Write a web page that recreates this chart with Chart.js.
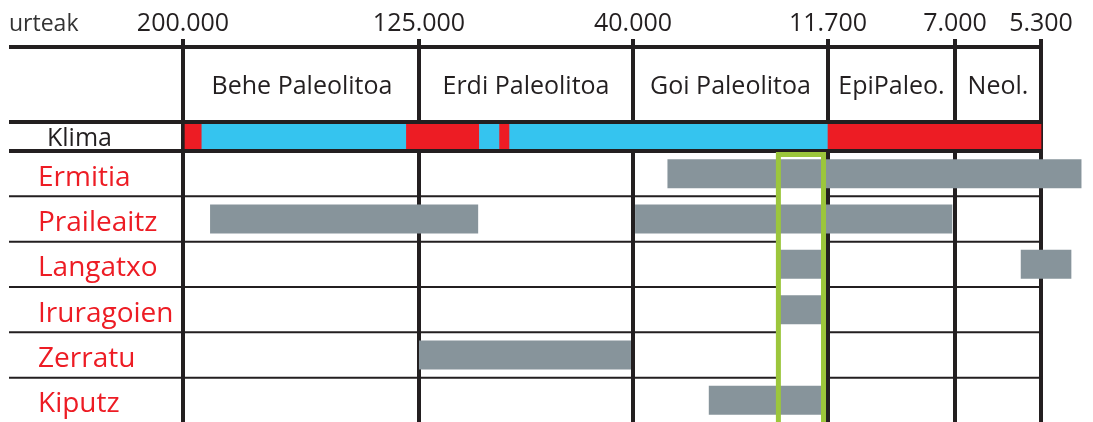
<!DOCTYPE html>
<html>
<head>
<meta charset="utf-8">
<script src="https://cdn.jsdelivr.net/npm/chart.js"></script>
<style>
  body { margin: 0; background: #fff; }
  #wrap { position: relative; width: 1093px; height: 422px; overflow: hidden; }
  .box { position: absolute; left: 0; width: 1093px; }
</style>
</head>
<body>
<div id="wrap">
  <div class="box" style="top:0;height:130px"><canvas id="header"></canvas></div>
  <div class="box" style="top:114px;height:45px"><canvas id="klima"></canvas></div>
  <div class="box" style="top:143px;height:280px"><canvas id="sites"></canvas></div>
</div>
<script>
// time axis (years before present)
const boundaryYears = [200000, 125000, 40000, 11700, 7000, 5300];
const boundaryLabels = ['200.000', '125.000', '40.000', '11.700', '7.000', '5.300'];
const periods = ['Behe Paleolitoa', 'Erdi Paleolitoa', 'Goi Paleolitoa', 'EpiPaleo.', 'Neol.'];

// climate: beroa = warm (red), hotza = cold (blue)
const climateFrom = [200000, 194000, 129000, 101000, 93000, 89000, 11700];
const climateTo   = [194000, 129000, 101000, 93000, 89000, 11700, 5300];
const climateKind = ['beroa', 'hotza', 'beroa', 'hotza', 'beroa', 'hotza', 'beroa'];

// sites and their occupation ranges
const sites = ['Ermitia', 'Praileaitz', 'Langatxo', 'Iruragoien', 'Zerratu', 'Kiputz'];
const occupationSite = ['Ermitia', 'Praileaitz', 'Praileaitz', 'Langatxo', 'Langatxo', 'Iruragoien', 'Zerratu', 'Kiputz'];
const occupationFrom = [35000, 191400, 39700, 18700, 5700, 18700, 125000, 29000];
const occupationTo   = [4500, 101500, 7100, 12400, 4700, 12400, 40800, 12400];

// highlighted window
const highlightFrom = 18900;
const highlightTo = 12350;

// the axis is not to scale: each period gets its own width
const segmentWidth = [236, 214, 195, 127, 86];
const axisMax = 910;

const ink = '#231f20';
const red = '#ed1c24';
const blue = '#35c4ef';
const grey = '#87949b';
const green = '#9cc63c';
const font = '"Open Sans", sans-serif';

function toUnit(year) {
  let start = 0;
  for (let i = 0; i < segmentWidth.length; i++) {
    const a = boundaryYears[i], b = boundaryYears[i + 1];
    if (year >= b || i === segmentWidth.length - 1) {
      return start + (a - year) / (a - b) * segmentWidth[i];
    }
    start += segmentWidth[i];
  }
}

function xAxis(showLabels) {
  return {
    type: 'linear', position: 'top', min: 0, max: axisMax, z: 1,
    afterBuildTicks: s => { s.ticks = boundaryYears.map(y => ({ value: toUnit(y) })); },
    afterFit: s => { s.height = showLabels ? 47 : 0; s.paddingLeft = 0; s.paddingRight = 0; },
    border: { display: false },
    grid: { color: ink, lineWidth: 4, drawTicks: showLabels, tickLength: 8 },
    ticks: {
      display: showLabels, autoSkip: false, maxRotation: 0, padding: 0,
      color: ink, font: { family: font, size: 25 },
      callback: (v, i) => boundaryLabels[i]
    }
  };
}

// fixed-width label column; no extra padding from label heights
function yAxis(width, extra) {
  return Object.assign({
    afterFit: s => { s.width = width; s.paddingTop = 0; s.paddingBottom = 0; },
    grid: { display: false },
    border: { display: false }
  }, extra);
}

// horizontal table rules, drawn from the label column to the last boundary
const tableLines = {
  id: 'tableLines',
  beforeDatasetsDraw(chart, args, opts) { if (opts.before) drawLines(chart, opts); },
  afterDatasetsDraw(chart, args, opts) { if (!opts.before) drawLines(chart, opts); }
};
function drawLines(chart, opts) {
  const { ctx } = chart;
  const x = chart.scales.x, y = chart.scales.y;
  const n = y.getLabels().length;
  const right = x.getPixelForValue(toUnit(boundaryYears[boundaryYears.length - 1])) + 2;
  ctx.save();
  ctx.strokeStyle = ink;
  for (let i = 0; i <= n; i++) {
    const w = (i === 0 || i === n) ? opts.edge : opts.inner;
    if (!w) continue;
    const py = y.getPixelForValue(i - 0.5);
    ctx.lineWidth = w;
    ctx.beginPath();
    ctx.moveTo(9, py);
    ctx.lineTo(right, py);
    ctx.stroke();
  }
  ctx.restore();
}

const periodText = {
  id: 'periodText',
  afterDatasetsDraw(chart) {
    const { ctx } = chart;
    ctx.save();
    ctx.fillStyle = ink;
    ctx.font = '25px ' + font;
    ctx.textAlign = 'center';
    ctx.textBaseline = 'middle';
    chart.getDatasetMeta(0).data.forEach((el, i) => {
      ctx.fillText(periods[i], (el.x + el.base) / 2, el.y + 2);
    });
    ctx.textAlign = 'left';
    ctx.textBaseline = 'alphabetic';
    ctx.font = '23px ' + font;
    ctx.fillStyle = '#333';
    ctx.fillText('urteak', 9, 31);
    ctx.restore();
  }
};

const highlight = {
  id: 'highlight',
  beforeDatasetsDraw(chart) {
    const { ctx, chartArea } = chart;
    const x = chart.scales.x;
    const x1 = x.getPixelForValue(toUnit(highlightFrom));
    const x2 = x.getPixelForValue(toUnit(highlightTo));
    ctx.save();
    ctx.fillStyle = '#fff';
    ctx.fillRect(x1, chartArea.top + 3, x2 - x1, chartArea.bottom - chartArea.top);
    ctx.restore();
  },
  afterDatasetsDraw(chart) {
    const { ctx, chartArea } = chart;
    const x = chart.scales.x;
    const x1 = x.getPixelForValue(toUnit(highlightFrom));
    const x2 = x.getPixelForValue(toUnit(highlightTo));
    ctx.save();
    ctx.strokeStyle = green;
    ctx.lineWidth = 5;
    ctx.strokeRect(x1, chartArea.top + 3.5, x2 - x1, chartArea.bottom - chartArea.top + 20);
    ctx.restore();
  }
};

const common = {
  indexAxis: 'y',
  responsive: true,
  maintainAspectRatio: false,
  animation: false,
  events: [],
  plugins: { legend: { display: false }, tooltip: { enabled: false } }
};

new Chart(document.getElementById('header'), {
  type: 'bar',
  data: {
    labels: ['periods'],
    datasets: [{
      data: periods.map((p, i) => ({ y: 'periods', x: [toUnit(boundaryYears[i]), toUnit(boundaryYears[i + 1])] })),
      backgroundColor: 'rgba(0,0,0,0)',
      barPercentage: 1, categoryPercentage: 1
    }]
  },
  options: {
    ...common,
    layout: { padding: { top: 0, bottom: 8, left: 0, right: 0 } },
    plugins: { ...common.plugins, tableLines: { edge: 4 } },
    scales: {
      x: xAxis(true),
      y: yAxis(183, { ticks: { display: false } })
    }
  },
  plugins: [tableLines, periodText]
});

new Chart(document.getElementById('klima'), {
  type: 'bar',
  data: {
    labels: ['Klima'],
    datasets: [{
      data: climateFrom.map((f, i) => ({ y: 'Klima', x: [toUnit(f), toUnit(climateTo[i])] })),
      backgroundColor: climateKind.map(k => k === 'beroa' ? red : blue),
      barPercentage: 1, categoryPercentage: 1
    }]
  },
  options: {
    ...common,
    layout: { padding: { top: 8, bottom: 8, left: 47, right: 0 } },
    plugins: { ...common.plugins, tableLines: { edge: 4 } },
    scales: {
      x: xAxis(false),
      y: yAxis(136, { ticks: { crossAlign: 'far', labelOffset: 2, color: ink, font: { family: font, size: 25 } } })
    }
  },
  plugins: [tableLines]
});

new Chart(document.getElementById('sites'), {
  type: 'bar',
  data: {
    labels: sites,
    datasets: [{
      data: occupationSite.map((s, i) => ({ y: s, x: [toUnit(occupationFrom[i]), toUnit(occupationTo[i])] })),
      backgroundColor: grey,
      barPercentage: 0.64, categoryPercentage: 1
    }]
  },
  options: {
    ...common,
    layout: { padding: { top: 8, bottom: 0, left: 38, right: 0 } },
    plugins: { ...common.plugins, tableLines: { before: true, inner: 2 } },
    scales: {
      x: xAxis(false),
      y: yAxis(145, { ticks: { crossAlign: 'far', labelOffset: 4, color: red, font: { family: font, size: 28 } } })
    }
  },
  plugins: [tableLines, highlight]
});
</script>
</body>
</html>
